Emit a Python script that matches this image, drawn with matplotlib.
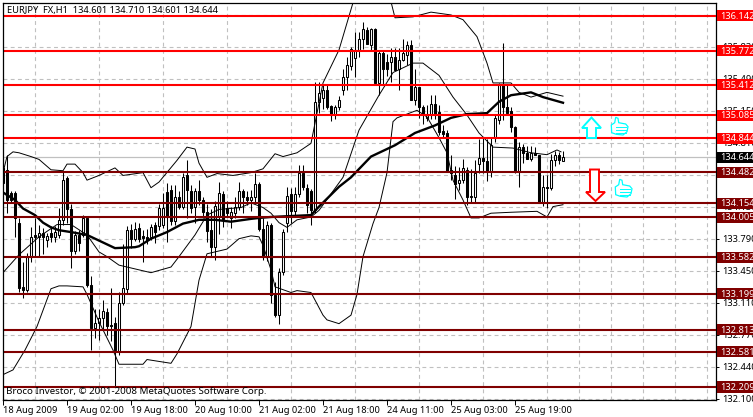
import matplotlib
matplotlib.use("Agg")
import matplotlib.pyplot as plt
from matplotlib.patches import Polygon, Rectangle
from matplotlib.transforms import Affine2D, blended_transform_factory

FONT = "Noto Sans"
W, H = 753, 417

opens = [134.37,134.51,134.26,134.26,133.95,133.27,133.24,133.59,133.82,133.80,133.84,133.77,133.84,133.80,133.82,133.98,134.42,134.09,133.65,133.82,133.82,134.00,
 133.29,132.83,132.89,132.94,133.00,132.87,132.89,132.59,133.10,133.25,133.87,133.78,133.89,133.81,133.80,133.80,133.92,133.91,133.92,134.27,134.30,133.97,134.22,134.12,134.45,134.29,134.12,134.29,134.19,134.06,133.87,133.69,134.02,134.25,134.10,134.00,134.05,134.12,134.29,134.22,134.19,134.22,134.36,
 133.88,133.59,133.92,133.18,132.97,133.43,133.95,134.25,134.07,134.25,134.48,134.32,134.28,134.08,135.23,135.27,135.36,135.19,135.09,135.17,135.35,135.49,135.61,135.69,135.78,135.90,135.99,135.83,136.00,135.43,135.75,135.65,135.65,135.70,135.58,135.67,135.73,135.83,135.25,135.39,
 135.17,135.06,135.09,135.21,135.12,134.92,134.90,134.51,134.46,134.37,134.40,134.51,134.23,134.22,134.57,134.64,134.60,134.49,134.85,135.04,135.41,135.18,135.13,134.96,134.49,134.75,134.69,134.62,134.69,134.67,134.16,134.33,134.32,134.61,134.67,134.601]
closes = [134.53,134.19,134.19,134.00,133.26,133.24,133.59,133.80,133.80,133.84,133.80,133.81,133.80,133.85,133.98,134.40,134.09,133.65,133.82,133.73,134.00,133.29,
 132.83,132.89,132.94,133.01,132.85,132.85,132.60,133.10,133.26,133.87,133.78,133.88,133.78,133.79,133.77,133.90,133.85,134.10,134.10,134.01,133.97,134.22,134.12,134.43,134.30,134.10,134.29,134.19,134.06,133.86,133.69,134.13,134.26,133.99,134.05,134.06,134.12,134.28,134.22,134.19,134.22,134.36,133.88,
 133.59,133.93,133.18,132.97,133.43,133.85,134.23,134.07,134.25,134.48,134.33,134.14,134.08,135.23,135.32,135.36,135.17,135.09,135.17,135.25,135.49,135.62,135.79,135.78,135.90,136.00,135.84,136.00,135.43,135.75,135.58,135.58,135.70,135.57,135.67,135.75,135.83,135.25,135.39,135.17,
 135.09,135.10,135.21,135.09,134.91,134.89,134.49,134.48,134.36,134.40,134.53,134.22,134.22,134.48,134.64,134.60,134.49,134.77,135.06,135.41,135.18,135.11,134.96,134.49,134.75,134.69,134.62,134.69,134.67,134.16,134.33,134.32,134.61,134.67,134.61,134.644]
highs = [134.58,134.67,134.29,134.29,134.00,133.53,133.63,133.90,134.00,133.92,133.89,133.84,133.91,133.91,134.10,134.50,134.44,134.15,133.86,133.87,134.03,134.00,
 133.38,133.04,133.03,133.13,133.05,133.26,132.95,133.22,133.72,133.91,133.94,133.96,133.95,133.87,133.88,133.94,133.96,134.15,134.26,134.37,134.35,134.35,134.29,134.48,134.61,134.35,134.32,134.40,134.22,134.15,134.09,134.18,134.38,134.28,134.18,134.12,134.22,134.38,134.31,134.29,134.30,134.48,134.38,
 134.00,133.97,133.95,133.32,133.47,133.88,134.33,134.32,134.33,134.56,134.56,134.36,134.31,135.44,135.44,135.41,135.41,135.20,135.20,135.29,135.58,135.70,135.81,135.97,135.97,136.08,136.02,136.01,136.01,135.77,135.77,135.74,135.80,135.80,135.80,135.90,135.87,135.88,135.58,135.39,
 135.20,135.20,135.30,135.30,135.20,134.98,134.93,134.67,134.55,134.54,134.62,134.54,134.52,134.61,134.84,134.85,134.84,134.86,135.09,135.43,135.85,135.41,135.18,134.97,134.80,134.78,134.76,134.76,134.75,134.67,134.45,134.46,134.68,134.71,134.70,134.71]
lows = [134.26,134.05,134.16,133.80,133.22,133.15,133.22,133.53,133.59,133.59,133.62,133.69,133.74,133.75,133.79,133.93,133.95,133.47,133.62,133.65,133.80,133.27,
 132.60,132.73,132.71,132.82,132.76,132.70,132.22,132.55,133.08,133.20,133.68,133.76,133.74,133.53,133.72,133.77,133.73,133.87,133.89,133.74,133.93,133.93,134.09,134.09,134.00,134.05,133.95,134.14,134.00,133.75,133.59,133.55,133.83,133.90,134.02,133.89,134.00,134.08,134.05,134.14,134.07,134.17,133.86,
 133.55,133.54,133.10,132.95,132.88,133.40,133.85,133.95,134.03,134.22,134.30,134.05,133.92,134.05,135.11,135.15,135.15,135.03,135.05,135.14,135.30,135.35,135.57,135.49,135.70,135.79,135.84,135.78,135.42,135.30,135.41,135.50,135.44,135.57,135.35,135.66,135.62,135.25,135.20,135.06,
 135.00,135.03,135.05,135.05,134.88,134.85,134.49,134.40,134.20,134.30,134.37,134.14,134.17,134.17,134.48,134.48,134.39,134.43,134.80,135.00,135.04,135.10,134.91,134.48,134.33,134.58,134.62,134.60,134.67,134.16,134.13,134.10,134.30,134.55,134.57,134.601]

ma_idx = [0,3,5,8,10,12,14,17,21,24,28,33,34,37,41,45,49,53,57,62,64,67,77,79,84,87,92,98,103,108,112,116,121,124,127,132,135,140]
ma_val = [134.27,134.19,134.10,134.03,133.95,133.90,133.87,133.85,133.82,133.76,133.68,133.69,133.70,133.78,133.85,133.94,133.98,133.98,133.96,133.99,134.00,134.01,134.03,134.12,134.33,134.43,134.65,134.77,134.90,134.98,135.06,135.10,135.11,135.23,135.30,135.33,135.28,135.22]

upper_idx = [0,1,2.5,4,7,9,12,15,16,18,20,21,24,28,30,35,37,39,43.5,46,48,49,51,53.5,57.5,62,65,68,70,73.5,77,80,84,87.5,89,93,96,97,98,102.5,107,112,115,118.5,121,122.5,127,129,132,136,140]
upper_val = [134.48,134.65,134.70,134.69,134.65,134.62,134.51,134.50,134.57,134.57,134.48,134.40,134.45,134.53,134.45,134.48,134.32,134.38,134.61,134.75,134.73,134.58,134.43,134.47,134.45,134.48,134.52,134.68,134.65,134.69,134.79,135.43,135.78,136.28,136.37,136.40,136.35,136.29,136.12,136.13,136.18,136.15,136.10,135.92,135.64,135.43,135.43,135.33,135.28,135.33,135.29]

inner_idx = [0,4,9,13.5,17,21,24,26,29,34,37,42,44,48,51,54,59.5,62,65,67,69,71,73.5,77,79,85,89,94,97.5,102.5,105,109,112.5,116,119,122.5,127.5,132,136,138.5,139.5]
inner_val = [133.42,133.61,133.80,133.93,133.93,133.82,133.64,133.59,133.50,133.45,133.42,133.48,133.59,133.82,134.03,134.09,134.11,134.16,134.11,134.05,133.95,133.90,133.98,134.01,134.08,134.43,134.93,135.30,135.54,135.64,135.64,135.51,135.28,135.09,134.90,134.75,134.74,134.69,134.67,134.72,134.70]

lower_idx = [0,2.5,5.5,8.5,12,14,16,20,21,24,27.5,29,35,36,42,43.5,47,49,51,56,59,62,64,65,67,68,72,73.5,77,80,81,84,87,88.5,90,92.5,94,96,97.5,98.5,103.5,106,109,111,112.5,115,117,119,122,127,133.5,136,137.5,140]
lower_val = [132.34,132.39,132.60,132.85,133.25,133.28,133.28,133.27,133.19,132.90,132.60,132.45,132.45,132.50,132.46,132.56,132.85,133.34,133.62,133.67,133.78,133.81,133.80,133.71,133.45,133.27,133.21,133.23,133.21,132.97,132.92,132.88,132.97,133.19,133.59,133.94,134.11,134.48,135.02,135.06,135.14,135.07,134.85,134.69,134.40,134.19,134.00,134.00,134.05,134.06,134.07,134.01,134.12,134.14]

resistance = [136.142, 135.772, 135.412, 135.085, 134.844]
support = [134.482, 134.154, 134.005, 133.582, 133.199, 132.813, 132.581, 132.209]
last_price = 134.644

grid_prices = [132.085,132.424,132.763,133.102,133.441,133.780,134.119,134.458,134.797,135.136,135.475,135.814,136.153]
grid_labels = ["132.100","132.440","132.770","133.110","133.450","133.790","134.130","134.470","134.810","135.150","135.490","135.830","136.170"]
time_ticks = [0,16,32,48,64,80,96,112,128]
time_labels = ["18 Aug 2009","19 Aug 02:00","19 Aug 18:00","20 Aug 10:00","21 Aug 02:00","21 Aug 18:00","24 Aug 11:00","25 Aug 03:00","25 Aug 19:00"]

header = "EURJPY  FX,H1  134.601 134.710 134.601 134.644"
footer = "Broco Investor, \u00a9 2001-2008 MetaQuotes Software Corp."

RED, DARK = "#ff0000", "#800000"
GRID = "#c0c0c0"
SMALL = 6.7

fig = plt.figure(figsize=(W / 100, H / 100), dpi=100, facecolor="white")
L, R, T, B = 2.5, 715.5, 2.5, 399.5
ax = fig.add_axes([L / W, (H - B) / H, (R - L) / W, (B - T) / H])
per_px = 0.010593
ax.set_ylim(132.209 - (B - 387) * per_px, 132.209 + (387 - T) * per_px)
ax.set_xlim((L - 3) / 4, (R - 3) / 4)

for s in ax.spines.values():
    s.set_linewidth(0.9)
    s.set_color("black")
ax.spines["left"].set_zorder(6)

ax.yaxis.tick_right()
ax.set_yticks(grid_prices)
ax.set_yticklabels(grid_labels, fontfamily=FONT, fontsize=SMALL, color="black")
ax.tick_params(axis="y", length=2.5, width=0.7, pad=2.5)
ax.set_xticks(time_ticks)
ax.set_xticklabels(time_labels, fontfamily=FONT, fontsize=SMALL, color="black", ha="left")
ax.tick_params(axis="x", length=3.5, width=0.7, pad=1.5)
ax.set_xticks(range(0, 180, 8), minor=True)
ax.tick_params(axis="x", which="minor", length=0)

ax.set_axisbelow(True)
ax.grid(True, axis="y", color=GRID, lw=0.8, dashes=(3.5, 3))
ax.xaxis.grid(True, which="minor", color=GRID, lw=0.8, dashes=(3.5, 3))
ax.xaxis.grid(False, which="major")
ax.axhline(last_price, color=GRID, lw=0.9, zorder=1)

# candles
for i, (o, h, l, c) in enumerate(zip(opens, highs, lows, closes)):
    ax.plot([i, i], [l, h], color="black", lw=0.75, zorder=3, solid_capstyle="butt")
    ax.add_patch(Rectangle((i - 0.25, min(o, c)), 0.5, max(abs(c - o), 0.01),
                           facecolor="white" if c >= o else "black",
                           edgecolor="black", lw=0.75, zorder=3.2))

ax.plot(upper_idx, upper_val, color="black", lw=0.7, zorder=3.5)
ax.plot(inner_idx, inner_val, color="black", lw=0.7, zorder=3.5)
ax.plot(lower_idx, lower_val, color="black", lw=0.7, zorder=3.5)
ax.plot(ma_idx, ma_val, color="black", lw=1.7, zorder=3.6)

label_x = blended_transform_factory(fig.transFigure, ax.transData)
box_h = 11 * per_px
def level_box(price, color):
    ax.add_patch(Rectangle((717 / W, price - box_h / 2), 36 / W, box_h, transform=label_x,
                           facecolor=color, edgecolor="none", clip_on=False, zorder=8))
    ax.text(720.5 / W, price - 0.005, f"{price:.3f}", transform=label_x, color="white", fontfamily=FONT,
            fontsize=SMALL, va="center", ha="left", clip_on=False, zorder=9)

for p in resistance:
    ax.axhline(p, color=RED, lw=1.5, zorder=5)
    level_box(p, RED)
for p in support:
    ax.axhline(p, color=DARK, lw=1.5, zorder=5)
    level_box(p, DARK)
level_box(last_price, "black")

# header / footer
ax.text(7 / W, (H - 10.5) / H, header, transform=fig.transFigure, fontfamily=FONT, fontsize=SMALL,
        va="center", ha="left", color="black", zorder=9)
ax.text(6 / W, (H - 391.5) / H, footer, transform=fig.transFigure, fontfamily=FONT, fontsize=7.0,
        va="center", ha="left", color="black", zorder=9)

# decorative chart objects, placed in picture pixels
px = Affine2D().scale(1, -1).translate(0, H)
def shape(pts, fc, ec, lw=1.2):
    fig.add_artist(Polygon(pts, closed=True, facecolor=fc, edgecolor=ec, lw=lw, transform=px, zorder=7))
shape([(591.5,117.5),(601,128),(596,128),(596,138),(587,138),(587,128),(582,128)], "white", "#00ffff", 1.4)
shape([(590,169.5),(599,169.5),(599,192),(605,192),(595.5,201),(586,192),(590,192)], "white", "#ff0000", 1.4)

thumb = [(615.7,117.3),(618,118.3),(618.7,122.7),(625.7,124),(628,126.7),(627,131.7),(623,135),(616.3,134.3),(611.7,132.7),(611.3,125),(614.7,122.7)]
for dx, dy in [(0, 0), (4, 62)]:
    shape([(x + dx, y + dy) for x, y in thumb], "white", "#00ffff", 0.9)
    for yy in (127, 130, 133):
        fig.add_artist(plt.Line2D([616 + dx, 626 + dx], [yy + dy, yy + dy], color="#00ffff", lw=0.7,
                                  transform=px, zorder=7.5))

fig.savefig("out.png", dpi=100, facecolor="white")
